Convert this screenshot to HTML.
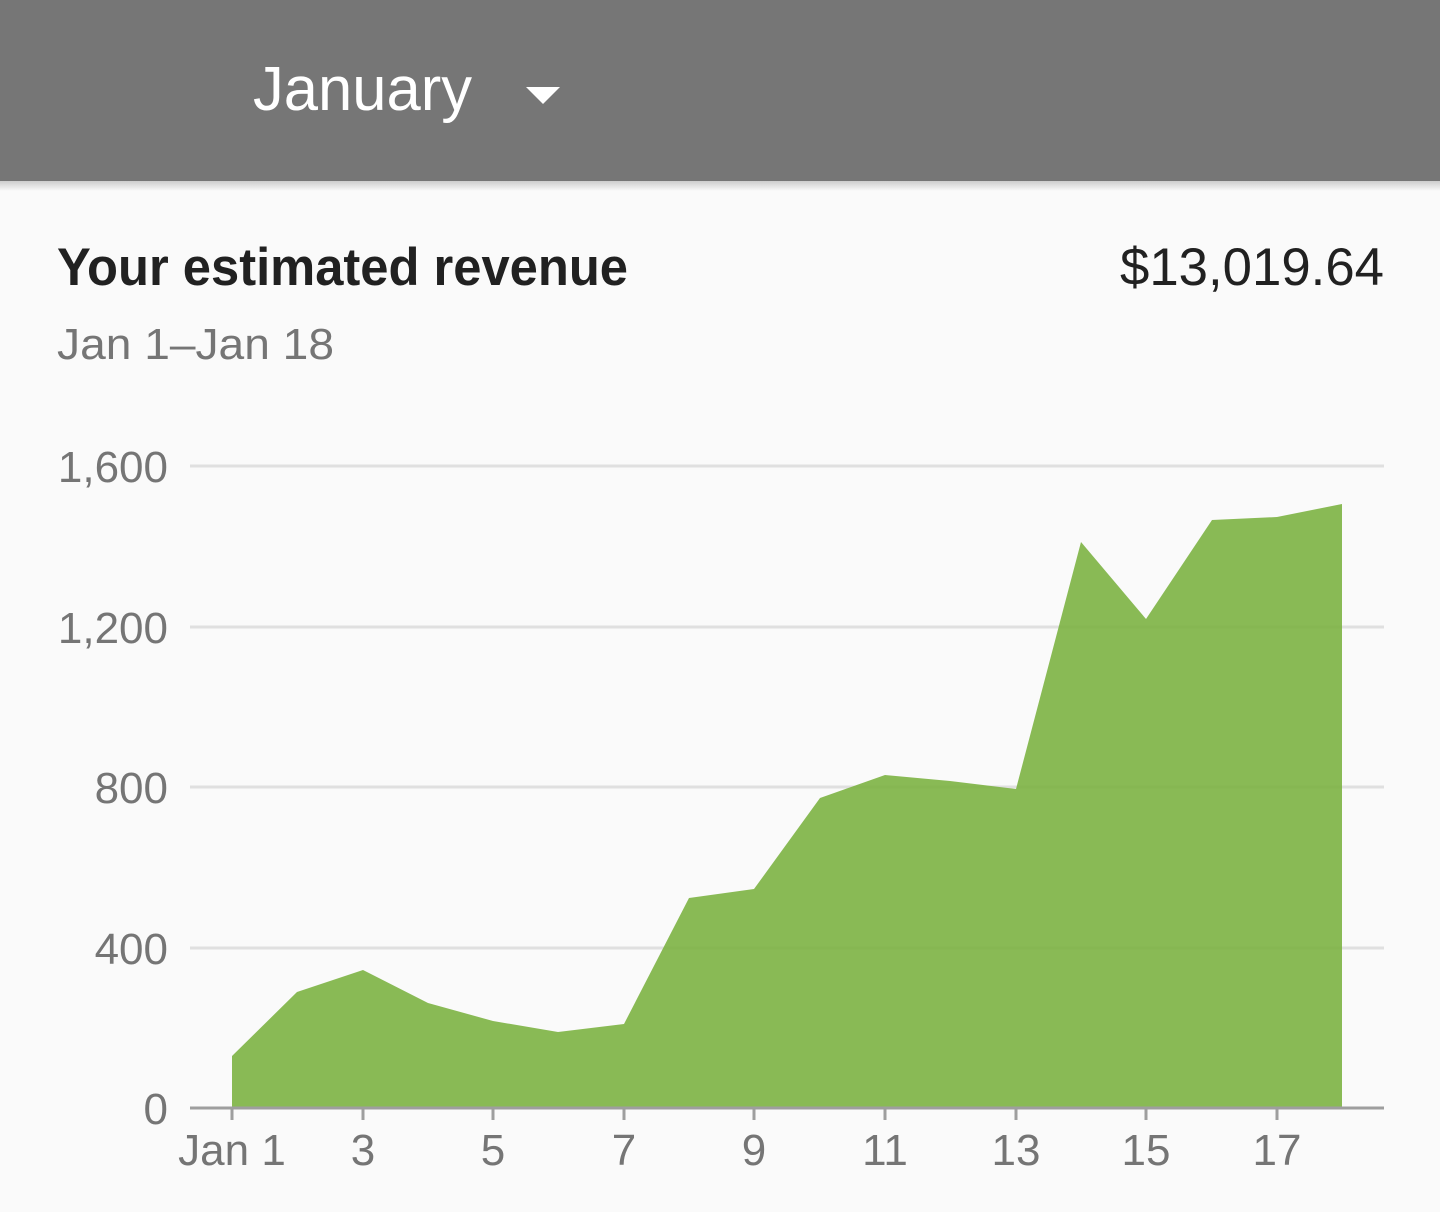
<!DOCTYPE html>
<html><head><style>
html,body{margin:0;padding:0;background:#fafafa;width:1440px;height:1212px;overflow:hidden}
</style></head><body>
<svg width="1440" height="1212" xmlns="http://www.w3.org/2000/svg" font-family="Liberation Sans, sans-serif">
<defs><linearGradient id="sh" x1="0" y1="0" x2="0" y2="1"><stop offset="0" stop-color="#000" stop-opacity="0.18"/><stop offset="1" stop-color="#000" stop-opacity="0"/></linearGradient></defs>
<rect x="0" y="0" width="1440" height="1212" fill="#fafafa"/>
<rect x="0" y="0" width="1440" height="181" fill="#767676"/>
<rect x="0" y="181" width="1440" height="10" fill="url(#sh)"/>
<text x="253" y="110" font-size="62" fill="#fff" textLength="219" lengthAdjust="spacingAndGlyphs">January</text>
<polygon points="526,87 560,87 543,104" fill="#fff"/>
<text x="57" y="285" font-size="53" font-weight="bold" fill="#212121" textLength="571" lengthAdjust="spacingAndGlyphs">Your estimated revenue</text>
<text x="1384" y="285" font-size="53" fill="#212121" text-anchor="end" textLength="264" lengthAdjust="spacingAndGlyphs">$13,019.64</text>
<text x="57" y="359" font-size="44" fill="#757575" textLength="277" lengthAdjust="spacingAndGlyphs">Jan 1–Jan 18</text>
<g stroke="#e0e0e0" stroke-width="3">
<line x1="190" y1="466" x2="1384" y2="466"/>
<line x1="190" y1="627" x2="1384" y2="627"/>
<line x1="190" y1="787" x2="1384" y2="787"/>
<line x1="190" y1="948" x2="1384" y2="948"/>
</g>
<polygon fill="#7cb342" fill-opacity="0.9" points="232,1108 232,1056 297,992 363,970 428,1003 493,1021 558,1032 624,1024 689,898 754,889 820,798 885,775 950,781 1016,789 1081,542 1146,619 1212,520 1277,517 1342,504 1342,1108"/>
<line x1="190" y1="1108" x2="1384" y2="1108" stroke="#9e9e9e" stroke-width="3"/>
<g stroke="#9e9e9e" stroke-width="3">
<line x1="232" y1="1108" x2="232" y2="1120"/><line x1="363" y1="1108" x2="363" y2="1120"/><line x1="493" y1="1108" x2="493" y2="1120"/><line x1="624" y1="1108" x2="624" y2="1120"/><line x1="754" y1="1108" x2="754" y2="1120"/><line x1="885" y1="1108" x2="885" y2="1120"/><line x1="1016" y1="1108" x2="1016" y2="1120"/><line x1="1146" y1="1108" x2="1146" y2="1120"/><line x1="1277" y1="1108" x2="1277" y2="1120"/>
</g>
<g font-size="44" fill="#757575" text-anchor="end">
<text x="168" y="482">1,600</text>
<text x="168" y="643">1,200</text>
<text x="168" y="803">800</text>
<text x="168" y="964">400</text>
<text x="168" y="1124">0</text>
</g>
<g font-size="44" fill="#757575" text-anchor="middle">
<text x="232" y="1165">Jan 1</text><text x="363" y="1165">3</text><text x="493" y="1165">5</text><text x="624" y="1165">7</text><text x="754" y="1165">9</text><text x="885" y="1165">11</text><text x="1016" y="1165">13</text><text x="1146" y="1165">15</text><text x="1277" y="1165">17</text>
</g>
</svg>
</body></html>
